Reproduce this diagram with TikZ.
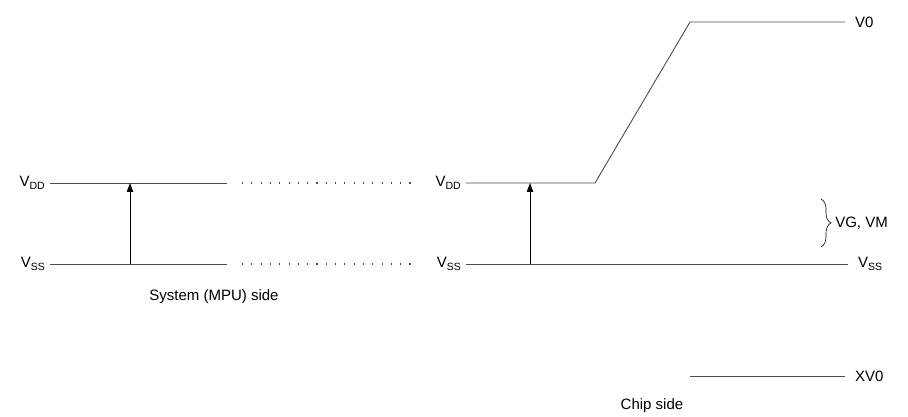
\documentclass[tikz,border=0pt]{standalone}
\usepackage{fontspec}
\setmainfont{Liberation Sans}
\usetikzlibrary{positioning,arrows.meta,decorations.pathreplacing}
\newcommand{\lowsub}[1]{\raisebox{-0.45ex}{\fontsize{10.5}{12}\selectfont #1}}

\begin{document}
\begin{tikzpicture}[x=1pt,y=-1pt,
        lvl/.style = {draw=black!70, line width=0.9pt},
        dots/.style = {draw=black!70, line width=1.1pt, dash pattern=on 1.1pt off 8.2pt},
        rise/.style = {-{Triangle[length=9pt,width=6.5pt]}, line width=0.8pt},
        lbl/.style = {inner sep=0pt, font=\fontsize{15}{17}\selectfont},
        vbrace/.style = {decorate, decoration={brace, amplitude=10pt}, line width=0.6pt}
    ]
        \useasboundingbox (0,0) rectangle (908,417);
        % system side
        \coordinate (sdd0) at (50,183);  \coordinate (sdd1) at (227,183);
        \coordinate (sss0) at (50,264);  \coordinate (sss1) at (227,264);
        \coordinate (sa0) at (130,264);  \coordinate (sa1) at (130,183);
        \draw[lvl] (sdd0) -- (sdd1);
        \draw[lvl] (sss0) -- (sss1);
        \draw[rise] (sa0) -- (sa1);
        \node[lbl, left=5pt of sdd0] (lvdd) {V\lowsub{DD}};
        \node[lbl, left=5pt of sss0] (lvss) {V\lowsub{SS}};
        \node[lbl] (syslbl) at (214,297) {System (MPU) side};
        % dotted gap
        \coordinate (ddot0) at (242,183);  \coordinate (ddot1) at (412,183);
        \coordinate (sdot0) at (242,264);  \coordinate (sdot1) at (412,264);
        \draw[dots] (ddot0) -- (ddot1);
        \draw[dots] (sdot0) -- (sdot1);
        % chip side
        \coordinate (cdd0) at (466,183);  \coordinate (cbend) at (595,183);
        \coordinate (ctop) at (690,22);   \coordinate (cv0) at (845,22);
        \coordinate (css0) at (466,264);  \coordinate (css1) at (848,264);
        \coordinate (ca0) at (530,264);   \coordinate (ca1) at (530,183);
        \coordinate (xv0a) at (690,376);  \coordinate (xv0b) at (845,376);
        \draw[lvl] (cdd0) -- (cbend) -- (ctop) -- (cv0);
        \draw[lvl] (css0) -- (css1);
        \draw[lvl] (xv0a) -- (xv0b);
        \draw[rise] (ca0) -- (ca1);
        \node[lbl, left=5pt of cdd0] (mvdd) {V\lowsub{DD}};
        \node[lbl, left=5pt of css0] (mvss) {V\lowsub{SS}};
        \node[lbl, right=10pt of cv0] (v0lbl) {V0};
        \node[lbl, right=10pt of css1] (rvss) {V\lowsub{SS}};
        \node[lbl, right=10pt of xv0b] (xv0lbl) {XV0};
        \coordinate (br0) at (821,199);  \coordinate (br1) at (821,247);
        \draw[vbrace] (br0) -- node[lbl, right=14pt] (vglbl) {VG, VM} (br1);
        \node[lbl] (chiplbl) at (652,406) {Chip side};
    \end{tikzpicture}
\end{document}
